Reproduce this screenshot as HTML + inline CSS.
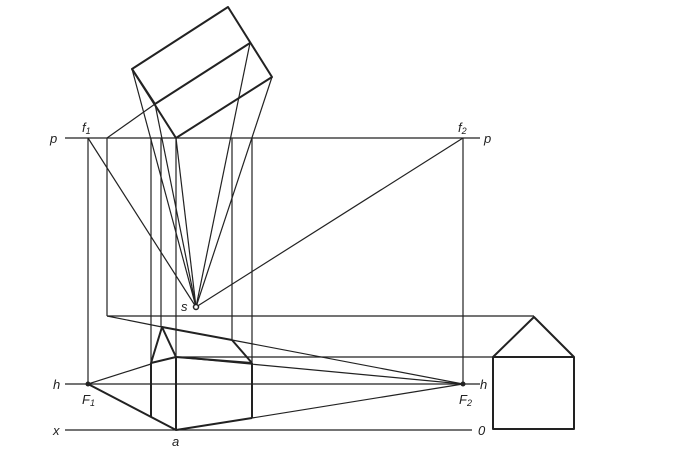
<!DOCTYPE html>
<html><head><style>body{margin:0;background:#fff}svg{display:block}text{font-family:"Liberation Sans",sans-serif;font-style:italic;font-size:13px;fill:#222}</style></head><body>
<svg width="673" height="458" viewBox="0 0 673 458">
<g stroke="#222" stroke-width="1.2" fill="none">
<line x1="65" y1="138" x2="480" y2="138"/>
<line x1="65" y1="384" x2="480" y2="384"/>
<line x1="65" y1="430" x2="472" y2="430"/>
<line x1="88" y1="138" x2="88" y2="384"/>
<line x1="107" y1="138" x2="107" y2="316"/>
<line x1="151" y1="138" x2="151" y2="417"/>
<line x1="161" y1="138" x2="161" y2="327"/>
<line x1="176" y1="138" x2="176" y2="430"/>
<line x1="232" y1="138" x2="232" y2="340"/>
<line x1="252" y1="138" x2="252" y2="418"/>
<line x1="463" y1="138" x2="463" y2="384"/>
<line x1="107" y1="138" x2="155" y2="104"/>
<line x1="132" y1="69" x2="196" y2="307"/>
<line x1="155" y1="104" x2="196" y2="307"/>
<line x1="176" y1="138" x2="196" y2="307"/>
<line x1="250" y1="43" x2="196" y2="307"/>
<line x1="272" y1="77" x2="196" y2="307"/>
<line x1="88" y1="138" x2="196" y2="307"/>
<line x1="463" y1="138" x2="196" y2="307"/>
<line x1="107" y1="316" x2="534" y2="316"/>
<line x1="176" y1="357" x2="493" y2="357"/>
<line x1="232" y1="340" x2="463" y2="384"/>
<line x1="176" y1="357" x2="463" y2="384"/>
<line x1="252" y1="418" x2="463" y2="384"/>
<line x1="88" y1="384" x2="151" y2="364"/>
<line x1="107" y1="316" x2="162" y2="327"/>
</g>
<g stroke="#222" stroke-width="2" fill="none" stroke-linejoin="round">
<polygon points="228,7 272,77 176,138 132,69"/>
<line x1="155" y1="104" x2="250" y2="43"/>
<line x1="132" y1="69" x2="155" y2="104"/>
<polyline points="88,384 176,430 252,418"/>
<line x1="151" y1="363" x2="151" y2="417"/>
<line x1="176" y1="357" x2="176" y2="430"/>
<line x1="252" y1="363" x2="252" y2="418"/>
<polyline points="151,363 176,357 252,363"/>
<polyline points="151,363 162,327 176,357"/>
<polyline points="162,327 232,340 252,363"/>
<rect x="493" y="357" width="81" height="72"/>
<polyline points="493,357 534,317 574,357"/>
</g>
<circle cx="88" cy="384" r="2.5" fill="#222"/>
<circle cx="463" cy="384" r="2.5" fill="#222"/>
<circle cx="196" cy="307" r="2.5" fill="#fff" stroke="#222" stroke-width="1.5"/>
<text x="50" y="143">p</text>
<text x="82" y="132">f<tspan font-size="9" dy="2">1</tspan></text>
<text x="458" y="132">f<tspan font-size="9" dy="2">2</tspan></text>
<text x="484" y="143">p</text>
<text x="181" y="311">s</text>
<text x="53" y="389">h</text>
<text x="480" y="389">h</text>
<text x="82" y="404">F<tspan font-size="9" dy="2">1</tspan></text>
<text x="459" y="404">F<tspan font-size="9" dy="2">2</tspan></text>
<text x="53" y="435">x</text>
<text x="172" y="446">a</text>
<text x="478" y="435">0</text>
</svg>
</body></html>
